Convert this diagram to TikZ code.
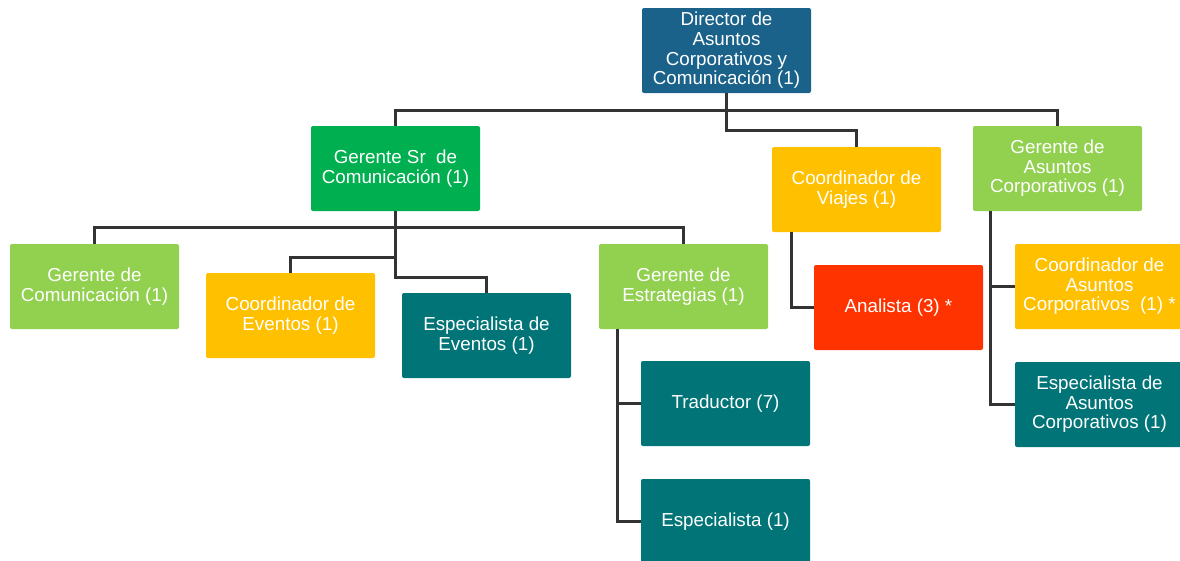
\documentclass[tikz,border=0pt]{standalone}
\usepackage{fontspec}
\setmainfont{Liberation Sans}
\definecolor{cdir}{HTML}{1B628A}
\definecolor{cgreen}{HTML}{00B050}
\definecolor{clight}{HTML}{92D050}
\definecolor{cyellow}{HTML}{FFC000}
\definecolor{cred}{HTML}{FF3300}
\definecolor{cteal}{HTML}{007477}
\definecolor{cline}{HTML}{333333}
\begin{document}
\begin{tikzpicture}[x=1pt,y=-1pt,
  box/.style={draw=none, rounded corners=2pt, minimum width=169pt, minimum height=85pt,
    inner sep=2pt, align=center, text=white,
    font=\fontsize{18.8}{19.6}\selectfont},
  conn/.style={draw=cline, line width=3pt}]
\useasboundingbox (0,0) rectangle (1180,560);
\node[box, fill=cdir] (dir) at (726.5,50.5) {Director de\\Asuntos\\Corporativos y\\Comunicación (1)};
\node[box, fill=cgreen] (gsr) at (395.5,168.5) {Gerente Sr\ \ de\\Comunicación (1)};
\node[box, fill=cyellow] (cv) at (856.5,189.5) {Coordinador de\\Viajes (1)};
\node[box, fill=clight] (gac) at (1057.5,168.5) {Gerente de\\Asuntos\\Corporativos (1)};
\node[box, fill=clight] (gc) at (94.5,286.5) {Gerente de\\Comunicación (1)};
\node[box, fill=cyellow] (ce) at (290.5,315.5) {Coordinador de\\Eventos (1)};
\node[box, fill=cteal] (ee) at (486.5,335.5) {Especialista de\\Eventos (1)};
\node[box, fill=clight] (ges) at (683.5,286.5) {Gerente de\\Estrategias (1)};
\node[box, fill=cred] (an) at (898.5,307.5) {Analista (3) *};
\node[box, fill=cyellow] (cac) at (1099.5,286.5) {Coordinador de\\Asuntos\\Corporativos\ \ (1) *};
\node[box, fill=cteal] (eac) at (1099.5,404.5) {Especialista de\\Asuntos\\Corporativos (1)};
\node[box, fill=cteal] (tr) at (725.5,403.5) {Traductor (7)};
\node[box, fill=cteal] (es) at (725.5,521.5) {Especialista (1)};

\draw[conn] (dir.south) -- ++(0,17) -| (gsr.north);
\draw[conn] (dir.south) -- ++(0,17) -| (gac.north);
\draw[conn] (dir.south) -- ++(0,37) -| (cv.north);

\draw[conn] (gsr.south) -- ++(0,16) -| (gc.north);
\draw[conn] (gsr.south) -- ++(0,16) -| (ges.north);
\draw[conn] (gsr.south) -- ++(0,46) -| (ce.north);
\draw[conn] (gsr.south) -- ++(0,66) -| (ee.north);

\draw[conn] ([xshift=19pt]ges.south west) |- (tr.west);
\draw[conn] ([xshift=19pt]ges.south west) |- (es.west);

\draw[conn] ([xshift=20pt]cv.south west) |- (an.west);

\draw[conn] ([xshift=18pt]gac.south west) |- (cac.west);
\draw[conn] ([xshift=18pt]gac.south west) |- (eac.west);
\end{tikzpicture}
\end{document}
